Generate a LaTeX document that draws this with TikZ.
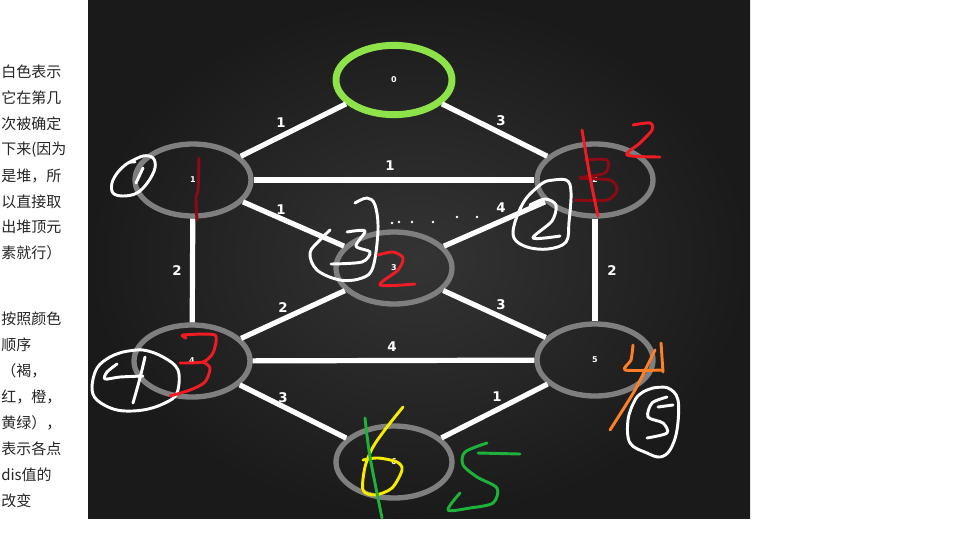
\documentclass[tikz,border=0pt]{standalone}
\usepackage{fontspec}
\setsansfont{DejaVu Sans}
\newfontfamily\cjk{Noto Sans CJK SC}
\usetikzlibrary{shapes.geometric}
\definecolor{vgray}{HTML}{7F7F7F}
\definecolor{vgreen}{HTML}{8EE24A}
\definecolor{bgin}{HTML}{343434}
\definecolor{bgout}{HTML}{1A1A1A}
\definecolor{hred}{HTML}{F01C24}
\definecolor{hdred}{HTML}{8C0A14}
\definecolor{horange}{HTML}{FF7F27}
\definecolor{hyellow}{HTML}{F5EC00}
\definecolor{hgreen}{HTML}{1FB23A}
\begin{document}
\begin{tikzpicture}[x=0.75pt,y=-0.75pt,
  vtx/.style={ellipse, draw=vgray, line width=4pt, minimum width=87pt, minimum height=54pt,
    inner sep=0pt, font=\sffamily\bfseries\fontsize{6}{7}\selectfont, text=white},
  srcvtx/.style={vtx, draw=vgreen, line width=5.2pt, minimum height=52pt},
  edgeln/.style={white, line width=3.9pt},
  wlabel/.style={font=\sffamily\bfseries\fontsize{10}{12}\selectfont, text=white, inner sep=0pt},
  hand/.style={line width=2.2pt, line cap=round, line join=round},
  note/.style={font=\cjk\fontsize{11.25}{13}\selectfont, anchor=west, inner sep=0pt, text=black!85}
]
\useasboundingbox (0,0) rectangle (960,540);
\fill[white] (0,0) rectangle (960,540);
\shade[inner color=bgin, outer color=bgout] (88,0) rectangle (750,518);

% left notes
\node[note] (t1) at (1,72) {白色表示};
\node[note] (t2) at (1,98) {它在第几};
\node[note] (t3) at (1,124) {次被确定};
\node[note] (t4) at (1,150) {下来(因为};
\node[note] (t5) at (1,176) {是堆，所};
\node[note] (t6) at (1,202) {以直接取};
\node[note] (t7) at (1,227) {出堆顶元};
\node[note] (t8) at (1,253) {素就行）};
\node[note] (u1) at (1,319) {按照颜色};
\node[note] (u2) at (1,345) {顺序};
\node[note] (u3) at (1,371) {（褐，};
\node[note] (u4) at (1,397) {红，橙，};
\node[note] (u5) at (1,423) {黄绿），};
\node[note] (u6) at (1,449) {表示各点};
\node[note] (u7) at (1,475) {dis值的};
\node[note] (u8) at (1,501) {改变};

% vertices
\node[srcvtx] (n0) at (394,80) {0};
\node[vtx] (nA) at (193,180) {1};
\node[vtx] (nB) at (595,180) {2};
\node[vtx] (nC) at (394,268) {3};
\node[vtx] (nD) at (192,361) {4};
\node[vtx] (nE) at (595,360) {5};
\node[vtx] (nF) at (394,462) {6};

% edges
\draw[edgeln] (n0) -- (nA);
\draw[edgeln] (n0) -- (nB);
\draw[edgeln] (nA) -- (nB);
\draw[edgeln] (nA) -- (nC);
\draw[edgeln] (nC) -- (nB);
\draw[edgeln] (nA) -- (nD);
\draw[edgeln] (nB) -- (nE);
\draw[edgeln] (nD) -- (nC);
\draw[edgeln] (nC) -- (nE);
\draw[edgeln] (nD) -- (nE);
\draw[edgeln] (nD) -- (nF);
\draw[edgeln] (nE) -- (nF);

% edge weights
\node[wlabel] (w0A) at (281,123) {1};
\node[wlabel] (w0B) at (501,121) {3};
\node[wlabel] (wAB) at (390,166) {1};
\node[wlabel] (wAC) at (281,210) {1};
\node[wlabel] (wCB) at (501,208) {4};
\node[wlabel] (wAD) at (177,271) {2};
\node[wlabel] (wBE) at (612,271) {2};
\node[wlabel] (wDC) at (283,308) {2};
\node[wlabel] (wCE) at (501,305) {3};
\node[wlabel] (wDE) at (392,347) {4};
\node[wlabel] (wDF) at (283,398) {3};
\node[wlabel] (wEF) at (497,397) {1};

% dotted marks
\foreach \p in {(392,223),(399,222),(412,222),(433,222),(457,217),(477,217)}
  \fill[white] \p circle (1.4);

% white circled order numbers
\draw[hand, white] plot[smooth, tension=0.6] coordinates {(128,163) (143,156) (153,158) (155,168) (148,182) (137,193) (123,196) (113,193) (112,183) (118,172) (128,163) (135,162)};
\draw[hand, white] (143,168) -- (136,183);

\draw[hand, white] plot[smooth, tension=0.6] coordinates {(547,181) (566,180) (571,192) (569,222) (566,242) (548,249) (527,247) (514,238) (515,222) (525,200) (540,185) (547,181)};
\draw[hand, white] plot[smooth, tension=0.5] coordinates {(530,205) (545,199) (556,205) (552,221) (533,238) (560,236)};

\draw[hand, white] plot[smooth, tension=0.6] coordinates {(355,203) (367,198) (375,205) (378,230) (373,267) (362,278) (340,280) (317,270) (310,253) (320,240) (330,230)};
\draw[hand, white] plot[smooth, tension=0.5] coordinates {(347,232) (365,231) (356,246) (370,252) (362,262) (331,264)};

\draw[hand, white] plot[smooth, tension=0.6] coordinates {(123,352) (143,350) (163,357) (178,370) (177,393) (165,403) (143,410) (117,410) (97,400) (92,387) (97,368) (110,357) (123,352)};
\draw[hand, white] plot[smooth, tension=0.5] coordinates {(117,364) (107,372) (105,379) (120,377) (143,376)};
\draw[hand, white] plot[smooth, tension=0.5] coordinates {(145,357) (140,378) (133,403)};

\draw[hand, white] plot[smooth, tension=0.6] coordinates {(653,388) (668,388) (678,400) (677,430) (670,450) (660,457) (647,453) (630,443) (628,420) (635,400) (643,392) (653,388)};
\draw[hand, white] (658,407) -- (673,405);
\draw[hand, white] plot[smooth, tension=0.5] coordinates {(667,397) (652,403) (648,417) (663,423) (667,433) (647,438)};

% red / dark red
\draw[hand, hdred] plot[smooth, tension=0.5] coordinates {(199,158) (198,190) (196,197) (197,220)};
\draw[hand, hdred] plot[smooth, tension=0.5] coordinates {(585,160) (607,160) (605,173) (580,178) (610,180) (617,190) (607,200) (575,200)};
\draw[hand, hred] plot[smooth, tension=0.5] coordinates {(582,130) (590,177) (598,216)};
\draw[hand, hred] plot[smooth, tension=0.5] coordinates {(633,125) (650,123) (652,130) (640,143) (627,155) (660,157)};
\draw[hand, hred] plot[smooth, tension=0.5] coordinates {(378,255) (393,252) (403,258) (398,270) (380,285) (415,284)};
\draw[hand, hred] plot[smooth, tension=0.4] coordinates {(186,338) (183,335) (215,335) (213,353) (203,362) (180,363)};
\draw[hand, hred] plot[smooth, tension=0.5] coordinates {(203,362) (210,368) (205,382) (190,390) (170,396)};

% orange 4
\draw[hand, horange] plot[smooth, tension=0.4] coordinates {(633,345) (631,360) (625,370) (663,370)};
\draw[hand, horange] (661,343) -- (663,372);
\draw[hand, horange] plot[smooth, tension=0.4] coordinates {(655,350) (635,390) (610,430)};

% yellow 6 and green marks
\draw[hand, hyellow] plot[smooth, tension=0.5] coordinates {(403,407) (387,427) (373,447) (365,467) (363,490) (375,495) (392,488) (402,470) (397,462) (378,458) (363,460)};
\draw[hand, hgreen] plot[smooth, tension=0.5] coordinates {(365,418) (370,457) (382,518)};
\draw[hand, hgreen] (478,453) -- (520,454);
\draw[hand, hgreen] plot[smooth, tension=0.5] coordinates {(487,443) (465,452) (463,465) (477,477) (497,488) (493,503) (470,508) (448,510) (460,493)};
\end{tikzpicture}
\end{document}
